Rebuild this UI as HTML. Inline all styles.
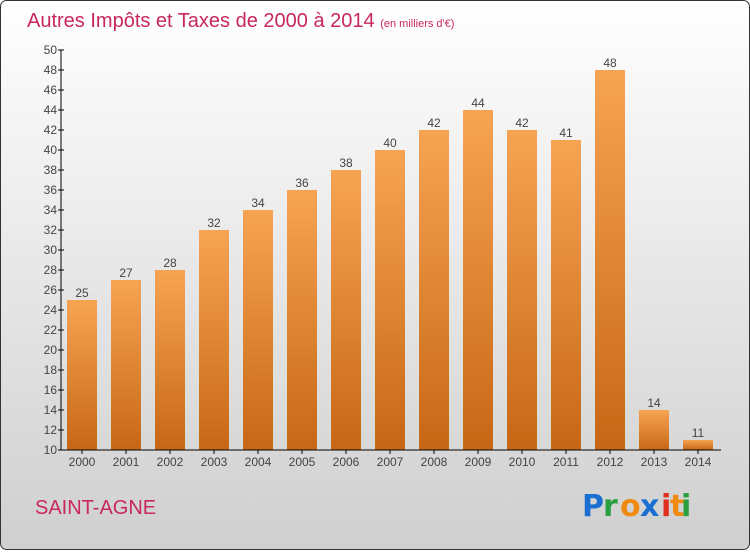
<!DOCTYPE html>
<html><head><meta charset="utf-8"><style>
body{margin:0;width:750px;height:550px;overflow:hidden;font-family:"Liberation Sans",sans-serif}
</style></head><body>
<svg id="chart" width="750" height="550" xmlns="http://www.w3.org/2000/svg">
<defs>
<linearGradient id="bg" x1="0" y1="0" x2="0" y2="1"><stop offset="0" stop-color="#ffffff"/><stop offset="1" stop-color="#cfcfcf"/></linearGradient>
<linearGradient id="bar" x1="0" y1="0" x2="0" y2="1"><stop offset="0" stop-color="#f7a452"/><stop offset="1" stop-color="#c76716"/></linearGradient>
</defs>
<rect x="0.5" y="0.5" width="749" height="549" rx="6" fill="url(#bg)" stroke="#333"/>
<text x="27" y="27" font-size="20" fill="#c8285a">Autres Impôts et Taxes de 2000 à 2014 <tspan font-size="11">(en milliers d'€)</tspan></text>
<g id="bars"></g>
<g id="axes"></g>
<text x="35" y="514" font-size="20" fill="#c8285a">SAINT-AGNE</text>
<g font-size="30" font-family="'DejaVu Sans',sans-serif" font-weight="bold">
<text x="582" y="516" fill="#1a6fd0">P</text><text x="603" y="516" fill="#2aa040">r</text><text x="620" y="516" fill="#f08a10">o</text><text x="640" y="516" fill="#1a6fd0">x</text><text x="661" y="516" fill="#e03020">i</text><text x="670" y="516" fill="#f08a10">t</text><text x="681" y="516" fill="#2aa040">i</text>
</g>
</svg>
<script>
const years=["2000","2001","2002","2003","2004","2005","2006","2007","2008","2009","2010","2011","2012","2013","2014"];
const values=[25,27,28,32,34,36,38,40,42,44,42,41,48,14,11];
const yTicks=[10,12,14,16,18,20,22,24,26,28,30,32,34,36,38,40,42,44,46,48,50];
const NS="http://www.w3.org/2000/svg";
const y=v=>450-(v-10)*10;
const x=i=>82+i*44;
function mk(t,a,p){const e=document.createElementNS(NS,t);for(const k in a)e.setAttribute(k,a[k]);p.appendChild(e);return e;}
const bars=document.getElementById('bars'),axes=document.getElementById('axes');
values.forEach((v,i)=>{
 const r=mk('rect',{x:x(i)-15,y:y(v),width:30,height:450-y(v),fill:'url(#bar)'},bars);
 
 
 const t=mk('text',{x:x(i),y:y(v)-3,'text-anchor':'middle','font-size':12,fill:'#444'},bars);
 t.textContent=v;
 
 
 const xl=mk('text',{x:x(i),y:466,'text-anchor':'middle','font-size':12,fill:'#444'},axes);
 xl.textContent=years[i];
 
 
 mk('line',{x1:x(i),x2:x(i),y1:450,y2:454,stroke:'#000'},axes);
});
const ya=mk('line',{x1:61,x2:61,y1:50,y2:450,stroke:'#000'},axes);


const xa=mk('line',{x1:61,x2:721,y1:450,y2:450,stroke:'#000'},axes);


yTicks.forEach(v=>{
 mk('line',{x1:58,x2:64,y1:y(v),y2:y(v),stroke:'#000'},axes);
 const t=mk('text',{x:57,y:y(v)+4,'text-anchor':'end','font-size':12,fill:'#444'},axes);
 t.textContent=v;
 
 
});
</script>
</body></html>
